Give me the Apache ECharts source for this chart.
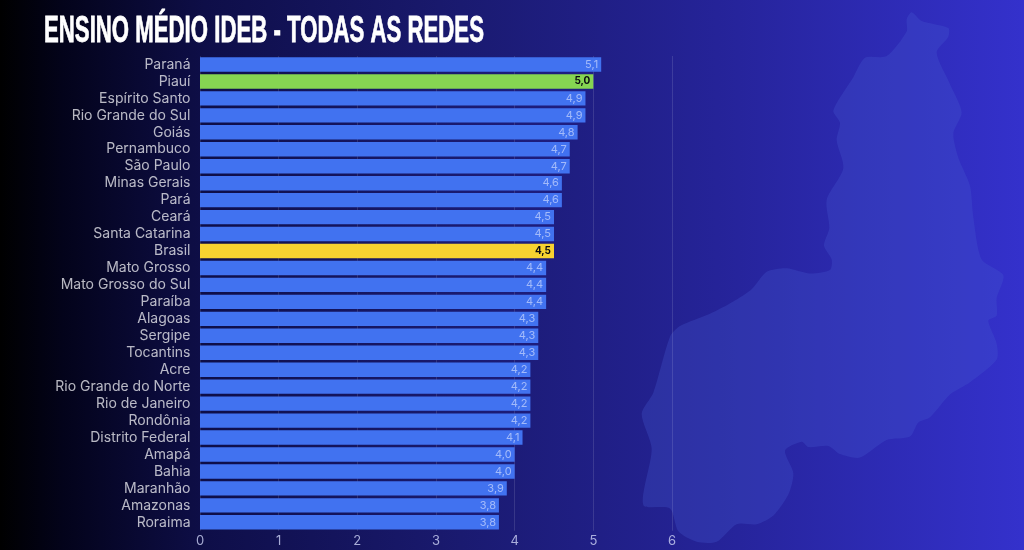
<!DOCTYPE html>
<html><head><meta charset="utf-8">
<style>html,body{margin:0;padding:0;background:#000}#c{width:1024px;height:550px}</style>
<script src="https://cdn.jsdelivr.net/npm/echarts@6/dist/echarts.min.js"></script>
</head><body><div id="c"></div>
<script>
const titleText = 'ENSINO MÉDIO IDEB - TODAS AS REDES';
const categories = ['Paraná','Piauí','Espírito Santo','Rio Grande do Sul','Goiás','Pernambuco','São Paulo','Minas Gerais','Pará','Ceará','Santa Catarina','Brasil','Mato Grosso','Mato Grosso do Sul','Paraíba','Alagoas','Sergipe','Tocantins','Acre','Rio Grande do Norte','Rio de Janeiro','Rondônia','Distrito Federal','Amapá','Bahia','Maranhão','Amazonas','Roraima'];
const values = [5.1,5.0,4.9,4.9,4.8,4.7,4.7,4.6,4.6,4.5,4.5,4.5,4.4,4.4,4.4,4.3,4.3,4.3,4.2,4.2,4.2,4.2,4.1,4.0,4.0,3.9,3.8,3.8];
const highlights = {'Piauí':'#86d552','Brasil':'#f7d230'};
const mapOutline = [[875,35],[905,60],[985,80],[985,105],[950,150],[990,240],[1025,320],[1000,380],[1015,450],[1050,530],[1060,620],[1085,740],[1150,785],[1130,850],[1130,900],[1105,915],[1130,980],[1130,1025],[1050,1090],[990,1125],[930,1190],[895,1205],[870,1245],[800,1255],[720,1305],[660,1295],[625,1272],[565,1275],[545,1260],[495,1285],[520,1350],[505,1410],[460,1470],[410,1495],[350,1495],[290,1545],[230,1545],[175,1515],[150,1450],[70,1440],[95,1280],[65,1180],[100,1120],[150,960],[180,930],[270,895],[340,860],[395,825],[440,775],[500,765],[570,780],[630,770],[635,740],[612,700],[628,650],[620,570],[670,480],[650,400],[660,350],[640,315],[700,220],[735,165],[800,160],[860,90],[860,55]];

const chart = echarts.init(document.getElementById('c'), null, {renderer:'canvas'});
chart.setOption({
  animation:false,
  backgroundColor:{type:'linear',x:0,y:0,x2:1,y2:0,colorStops:[
    {offset:0,color:'#000000'},{offset:0.06,color:'#03031a'},{offset:0.2,color:'#0e0e48'},
    {offset:0.45,color:'#1a1a70'},{offset:0.7,color:'#252398'},{offset:1,color:'#3431cc'}]},
  graphic:[
    {type:'polygon',z:-1,silent:true,
     shape:{points:mapOutline.map(p=>[620+p[0]/3,p[1]*1.052/3]),smooth:0.25},
     style:{fill:'rgba(70,90,210,0.3)'}},
    {type:'text',silent:true,x:44,y:13,scaleX:0.6,scaleY:1,
     style:{text:titleText,fontFamily:'Liberation Sans',fontWeight:'bold',fontSize:37,fill:'#ffffff',stroke:'#ffffff',lineWidth:0.8}}
  ],
  grid:{left:200,top:56,width:472,height:474.8,containLabel:false},
  xAxis:{type:'value',min:0,max:6,interval:1,
    axisLine:{show:false},axisTick:{show:false},
    splitLine:{show:true,lineStyle:{color:'rgba(255,255,255,0.12)',width:1}},
    axisLabel:{color:'rgba(205,210,245,0.8)',fontFamily:'Inter',fontSize:13,margin:4}},
  yAxis:{type:'category',inverse:true,data:categories,
    axisLine:{show:false},axisTick:{show:false},
    axisLabel:{color:'rgba(235,235,240,0.78)',fontFamily:'Inter',fontSize:14,margin:9.5,interval:0}},
  series:[{type:'bar',barWidth:14.4,
    data:categories.map((c,i)=>{
      const hi=highlights[c];
      return {value:values[i],
        itemStyle:{color:hi||'#4172f0'},
        label:hi?{color:'#0a0a10',fontWeight:'bold',fontSize:10}:{}};
    }),
    label:{show:true,position:'insideRight',distance:3,color:'rgba(215,225,255,0.65)',fontFamily:'Inter',fontSize:11,
      formatter:p=>p.value.toFixed(1).replace('.',',')}}]
});
</script></body></html>
